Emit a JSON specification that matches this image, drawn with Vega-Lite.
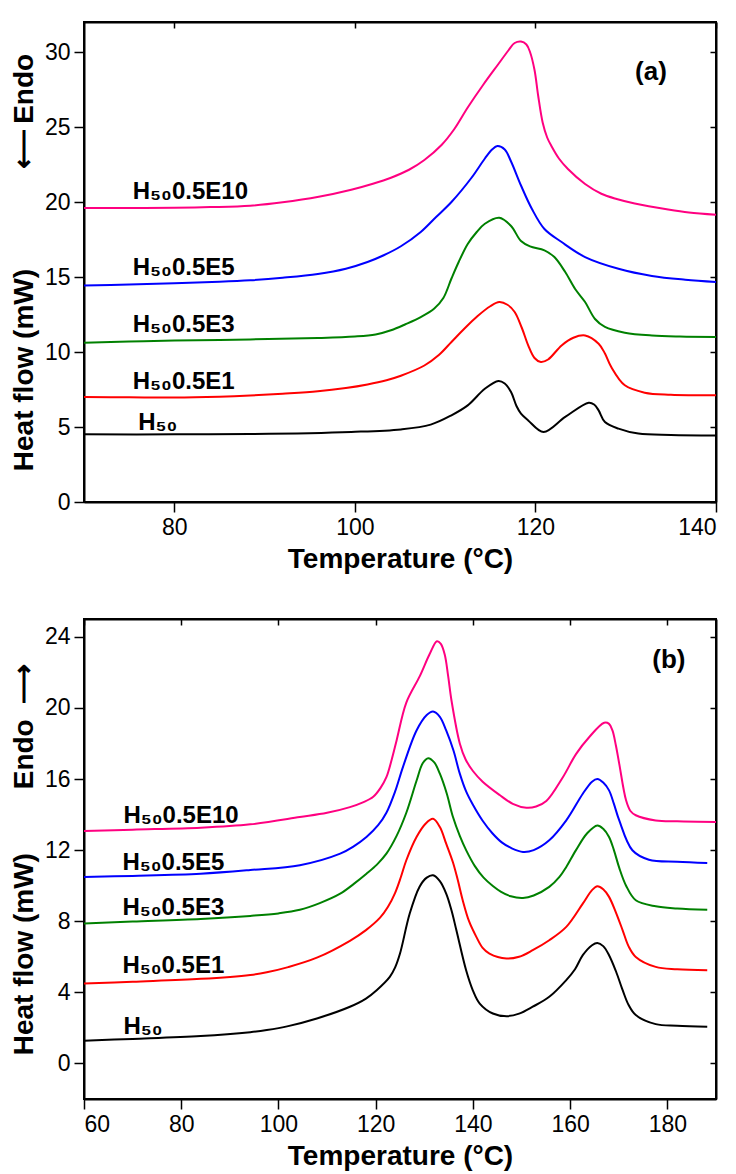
{
  "$schema": "https://vega.github.io/schema/vega-lite/v6.json",
  "padding": {"left": 9, "top": 20, "right": 16, "bottom": 4},
  "spacing": 43,
  "config": {
    "font": "Liberation Sans",
    "view": {"stroke": "black", "strokeWidth": 2},
    "axis": {
      "grid": false,
      "domainColor": "black",
      "domainWidth": 2,
      "tickColor": "black",
      "tickWidth": 1.5,
      "tickSize": 10,
      "labelFont": "Liberation Sans",
      "labelFontSize": 23,
      "labelColor": "black",
      "labelPadding": 4,
      "titleFont": "Liberation Sans",
      "titleFontSize": 28,
      "titleFontWeight": "bold",
      "titleColor": "black",
      "titlePadding": 6
    }
  },
  "datasets": {
    "a": [
      {"s":"E10","T":70,"Q":19.6},{"s":"E10","T":75,"Q":19.6},{"s":"E10","T":80,"Q":19.62},{"s":"E10","T":84,"Q":19.66},{"s":"E10","T":88.4,"Q":19.75},{"s":"E10","T":92,"Q":19.98},{"s":"E10","T":96,"Q":20.35},{"s":"E10","T":99.6,"Q":20.82},{"s":"E10","T":102,"Q":21.22},{"s":"E10","T":104,"Q":21.62},{"s":"E10","T":106,"Q":22.15},{"s":"E10","T":107.7,"Q":22.8},{"s":"E10","T":109.6,"Q":23.8},{"s":"E10","T":111,"Q":24.85},{"s":"E10","T":112.5,"Q":26.3},{"s":"E10","T":114.2,"Q":27.8},{"s":"E10","T":115.9,"Q":29.2},{"s":"E10","T":117,"Q":30.1},{"s":"E10","T":117.7,"Q":30.6},{"s":"E10","T":118.4,"Q":30.7},{"s":"E10","T":119,"Q":30.5},{"s":"E10","T":119.4,"Q":30.0},{"s":"E10","T":119.9,"Q":28.8},{"s":"E10","T":120.3,"Q":27.1},{"s":"E10","T":120.8,"Q":25.3},{"s":"E10","T":121.3,"Q":24.3},{"s":"E10","T":121.8,"Q":23.7},{"s":"E10","T":122.6,"Q":22.9},{"s":"E10","T":123.6,"Q":22.2},{"s":"E10","T":125.5,"Q":21.2},{"s":"E10","T":127.3,"Q":20.55},{"s":"E10","T":129,"Q":20.2},{"s":"E10","T":131,"Q":19.9},{"s":"E10","T":134.7,"Q":19.5},{"s":"E10","T":137,"Q":19.3},{"s":"E10","T":140,"Q":19.15},
      {"s":"E5","T":70,"Q":14.44},{"s":"E5","T":75,"Q":14.5},{"s":"E5","T":80,"Q":14.58},{"s":"E5","T":85,"Q":14.68},{"s":"E5","T":88.4,"Q":14.78},{"s":"E5","T":92,"Q":14.95},{"s":"E5","T":95.9,"Q":15.2},{"s":"E5","T":99,"Q":15.55},{"s":"E5","T":101.4,"Q":16.0},{"s":"E5","T":103.2,"Q":16.45},{"s":"E5","T":105.1,"Q":17.05},{"s":"E5","T":107.3,"Q":18.0},{"s":"E5","T":109,"Q":19.0},{"s":"E5","T":110.7,"Q":20.0},{"s":"E5","T":112.9,"Q":21.6},{"s":"E5","T":114.4,"Q":22.9},{"s":"E5","T":115.2,"Q":23.5},{"s":"E5","T":115.8,"Q":23.73},{"s":"E5","T":116.6,"Q":23.5},{"s":"E5","T":117.3,"Q":22.7},{"s":"E5","T":118.4,"Q":21.1},{"s":"E5","T":119.6,"Q":19.55},{"s":"E5","T":121,"Q":18.2},{"s":"E5","T":122.9,"Q":17.33},{"s":"E5","T":125.5,"Q":16.33},{"s":"E5","T":129.2,"Q":15.55},{"s":"E5","T":132.9,"Q":15.07},{"s":"E5","T":136.6,"Q":14.82},{"s":"E5","T":140,"Q":14.67},
      {"s":"E3","T":70,"Q":10.62},{"s":"E3","T":75,"Q":10.7},{"s":"E3","T":80,"Q":10.76},{"s":"E3","T":88.4,"Q":10.84},{"s":"E3","T":95.9,"Q":10.93},{"s":"E3","T":100,"Q":11.03},{"s":"E3","T":102.3,"Q":11.17},{"s":"E3","T":104,"Q":11.45},{"s":"E3","T":105.6,"Q":11.85},{"s":"E3","T":107.3,"Q":12.33},{"s":"E3","T":108.8,"Q":12.9},{"s":"E3","T":109.8,"Q":13.6},{"s":"E3","T":110.7,"Q":14.9},{"s":"E3","T":111.5,"Q":16.0},{"s":"E3","T":112.5,"Q":17.2},{"s":"E3","T":113.5,"Q":18.0},{"s":"E3","T":114.4,"Q":18.55},{"s":"E3","T":116,"Q":18.95},{"s":"E3","T":117.3,"Q":18.4},{"s":"E3","T":118.4,"Q":17.4},{"s":"E3","T":119.4,"Q":17.04},{"s":"E3","T":121,"Q":16.78},{"s":"E3","T":122.1,"Q":16.33},{"s":"E3","T":123.3,"Q":15.33},{"s":"E3","T":124.4,"Q":14.2},{"s":"E3","T":125.5,"Q":13.33},{"s":"E3","T":126.6,"Q":12.2},{"s":"E3","T":127.7,"Q":11.67},{"s":"E3","T":129.9,"Q":11.29},{"s":"E3","T":132.9,"Q":11.1},{"s":"E3","T":136,"Q":11.03},{"s":"E3","T":140,"Q":11.0},
      {"s":"E1","T":70,"Q":7.0},{"s":"E1","T":75,"Q":6.98},{"s":"E1","T":80,"Q":6.96},{"s":"E1","T":85,"Q":7.02},{"s":"E1","T":88.4,"Q":7.1},{"s":"E1","T":92,"Q":7.22},{"s":"E1","T":95.9,"Q":7.38},{"s":"E1","T":99,"Q":7.6},{"s":"E1","T":101.4,"Q":7.84},{"s":"E1","T":103.5,"Q":8.12},{"s":"E1","T":105.1,"Q":8.42},{"s":"E1","T":107.7,"Q":9.1},{"s":"E1","T":109.3,"Q":9.8},{"s":"E1","T":110.7,"Q":10.67},{"s":"E1","T":112.2,"Q":11.6},{"s":"E1","T":113.6,"Q":12.4},{"s":"E1","T":115,"Q":13.05},{"s":"E1","T":116,"Q":13.33},{"s":"E1","T":116.9,"Q":13.15},{"s":"E1","T":117.7,"Q":12.67},{"s":"E1","T":118.5,"Q":11.6},{"s":"E1","T":119.2,"Q":10.44},{"s":"E1","T":119.9,"Q":9.6},{"s":"E1","T":120.6,"Q":9.33},{"s":"E1","T":121.4,"Q":9.5},{"s":"E1","T":122.9,"Q":10.44},{"s":"E1","T":124.2,"Q":10.95},{"s":"E1","T":125.5,"Q":11.1},{"s":"E1","T":127,"Q":10.55},{"s":"E1","T":127.7,"Q":9.9},{"s":"E1","T":128.4,"Q":9.0},{"s":"E1","T":129.9,"Q":7.78},{"s":"E1","T":132.1,"Q":7.29},{"s":"E1","T":135,"Q":7.15},{"s":"E1","T":140,"Q":7.11},
      {"s":"H50","T":70,"Q":4.51},{"s":"H50","T":80,"Q":4.51},{"s":"H50","T":88.4,"Q":4.53},{"s":"H50","T":99.6,"Q":4.67},{"s":"H50","T":105.1,"Q":4.84},{"s":"H50","T":108.4,"Q":5.16},{"s":"H50","T":110.7,"Q":5.78},{"s":"H50","T":112.5,"Q":6.44},{"s":"H50","T":114.4,"Q":7.55},{"s":"H50","T":115.9,"Q":8.07},{"s":"H50","T":116.6,"Q":7.9},{"s":"H50","T":117.3,"Q":7.33},{"s":"H50","T":117.9,"Q":6.4},{"s":"H50","T":118.4,"Q":5.89},{"s":"H50","T":119.2,"Q":5.44},{"s":"H50","T":120.9,"Q":4.67},{"s":"H50","T":123.3,"Q":5.67},{"s":"H50","T":125.9,"Q":6.62},{"s":"H50","T":126.5,"Q":6.5},{"s":"H50","T":127,"Q":6.11},{"s":"H50","T":127.7,"Q":5.33},{"s":"H50","T":129.2,"Q":4.89},{"s":"H50","T":131.4,"Q":4.56},{"s":"H50","T":135,"Q":4.47},{"s":"H50","T":140,"Q":4.44}
    ],
    "b": [
      {"s":"E10","T":60,"Q":13.07},{"s":"E10","T":70,"Q":13.15},{"s":"E10","T":84,"Q":13.26},{"s":"E10","T":94.2,"Q":13.45},{"s":"E10","T":104.4,"Q":13.86},{"s":"E10","T":110,"Q":14.1},{"s":"E10","T":114.7,"Q":14.42},{"s":"E10","T":117.5,"Q":14.7},{"s":"E10","T":119.5,"Q":15.0},{"s":"E10","T":121,"Q":15.5},{"s":"E10","T":122.2,"Q":16.1},{"s":"E10","T":123.3,"Q":17.1},{"s":"E10","T":124.3,"Q":18.17},{"s":"E10","T":126.3,"Q":20.3},{"s":"E10","T":129.1,"Q":21.8},{"s":"E10","T":131.1,"Q":23.03},{"s":"E10","T":132.6,"Q":23.75},{"s":"E10","T":133.4,"Q":23.6},{"s":"E10","T":134.2,"Q":23.0},{"s":"E10","T":134.9,"Q":21.8},{"s":"E10","T":135.6,"Q":20.4},{"s":"E10","T":137.3,"Q":18.0},{"s":"E10","T":138.5,"Q":17.1},{"s":"E10","T":140,"Q":16.45},{"s":"E10","T":142,"Q":15.85},{"s":"E10","T":145.5,"Q":15.1},{"s":"E10","T":148.2,"Q":14.6},{"s":"E10","T":151,"Q":14.38},{"s":"E10","T":153,"Q":14.45},{"s":"E10","T":155.1,"Q":14.76},{"s":"E10","T":158.5,"Q":16.1},{"s":"E10","T":161.2,"Q":17.4},{"s":"E10","T":163.9,"Q":18.35},{"s":"E10","T":167,"Q":19.16},{"s":"E10","T":168,"Q":19.1},{"s":"E10","T":168.7,"Q":18.73},{"s":"E10","T":169.4,"Q":17.9},{"s":"E10","T":170.1,"Q":16.85},{"s":"E10","T":171.5,"Q":14.8},{"s":"E10","T":172.4,"Q":14.2},{"s":"E10","T":173.5,"Q":13.96},{"s":"E10","T":177.6,"Q":13.67},{"s":"E10","T":182,"Q":13.62},{"s":"E10","T":190,"Q":13.58},
      {"s":"E5","T":60,"Q":10.49},{"s":"E5","T":70,"Q":10.55},{"s":"E5","T":84,"Q":10.67},{"s":"E5","T":94.2,"Q":10.88},{"s":"E5","T":104.4,"Q":11.15},{"s":"E5","T":112.7,"Q":11.8},{"s":"E5","T":115.4,"Q":12.2},{"s":"E5","T":118.1,"Q":12.74},{"s":"E5","T":120.5,"Q":13.4},{"s":"E5","T":122.2,"Q":14.1},{"s":"E5","T":124,"Q":15.3},{"s":"E5","T":125.6,"Q":16.67},{"s":"E5","T":128.4,"Q":18.73},{"s":"E5","T":130.5,"Q":19.6},{"s":"E5","T":131.8,"Q":19.8},{"s":"E5","T":133.2,"Q":19.5},{"s":"E5","T":134.5,"Q":18.73},{"s":"E5","T":136,"Q":17.6},{"s":"E5","T":137.3,"Q":16.3},{"s":"E5","T":138.6,"Q":15.3},{"s":"E5","T":140,"Q":14.55},{"s":"E5","T":142,"Q":13.65},{"s":"E5","T":144,"Q":12.95},{"s":"E5","T":146,"Q":12.42},{"s":"E5","T":148,"Q":12.1},{"s":"E5","T":150.3,"Q":11.9},{"s":"E5","T":152.5,"Q":12.0},{"s":"E5","T":155.7,"Q":12.55},{"s":"E5","T":159.2,"Q":13.67},{"s":"E5","T":162.6,"Q":15.17},{"s":"E5","T":164.5,"Q":15.85},{"s":"E5","T":165.6,"Q":16.0},{"s":"E5","T":166.8,"Q":15.8},{"s":"E5","T":168,"Q":15.36},{"s":"E5","T":169,"Q":14.6},{"s":"E5","T":170.1,"Q":13.67},{"s":"E5","T":172.8,"Q":11.99},{"s":"E5","T":176.2,"Q":11.46},{"s":"E5","T":182,"Q":11.35},{"s":"E5","T":188.2,"Q":11.28},
      {"s":"E3","T":60,"Q":7.87},{"s":"E3","T":70,"Q":7.98},{"s":"E3","T":84,"Q":8.13},{"s":"E3","T":94.2,"Q":8.3},{"s":"E3","T":100,"Q":8.44},{"s":"E3","T":104.4,"Q":8.64},{"s":"E3","T":108.5,"Q":9.02},{"s":"E3","T":112.7,"Q":9.55},{"s":"E3","T":115.5,"Q":10.1},{"s":"E3","T":118.1,"Q":10.67},{"s":"E3","T":120.3,"Q":11.2},{"s":"E3","T":122.2,"Q":11.8},{"s":"E3","T":124.3,"Q":12.8},{"s":"E3","T":126.3,"Q":14.1},{"s":"E3","T":128.4,"Q":15.9},{"s":"E3","T":129.7,"Q":16.9},{"s":"E3","T":130.8,"Q":17.17},{"s":"E3","T":132,"Q":16.95},{"s":"E3","T":133.2,"Q":16.3},{"s":"E3","T":134.6,"Q":15.2},{"s":"E3","T":135.9,"Q":13.86},{"s":"E3","T":137.3,"Q":12.8},{"s":"E3","T":138.6,"Q":12.0},{"s":"E3","T":140.4,"Q":11.1},{"s":"E3","T":142.2,"Q":10.45},{"s":"E3","T":144.1,"Q":9.98},{"s":"E3","T":145.8,"Q":9.65},{"s":"E3","T":147.8,"Q":9.4},{"s":"E3","T":150.3,"Q":9.31},{"s":"E3","T":152.5,"Q":9.45},{"s":"E3","T":155.7,"Q":9.93},{"s":"E3","T":157.8,"Q":10.49},{"s":"E3","T":159.2,"Q":11.05},{"s":"E3","T":161.2,"Q":12.0},{"s":"E3","T":163.5,"Q":12.95},{"s":"E3","T":165.6,"Q":13.39},{"s":"E3","T":166.8,"Q":13.2},{"s":"E3","T":168,"Q":12.74},{"s":"E3","T":169,"Q":12.0},{"s":"E3","T":170.1,"Q":11.0},{"s":"E3","T":171.5,"Q":10.0},{"s":"E3","T":173.5,"Q":9.18},{"s":"E3","T":177.6,"Q":8.84},{"s":"E3","T":182,"Q":8.72},{"s":"E3","T":188.2,"Q":8.65},
      {"s":"E1","T":60,"Q":4.49},{"s":"E1","T":70,"Q":4.6},{"s":"E1","T":84,"Q":4.76},{"s":"E1","T":94.2,"Q":4.98},{"s":"E1","T":97.6,"Q":5.13},{"s":"E1","T":102,"Q":5.42},{"s":"E1","T":107.9,"Q":5.95},{"s":"E1","T":114.7,"Q":6.9},{"s":"E1","T":118,"Q":7.5},{"s":"E1","T":120.9,"Q":8.2},{"s":"E1","T":122.5,"Q":8.8},{"s":"E1","T":124,"Q":9.6},{"s":"E1","T":125.2,"Q":10.5},{"s":"E1","T":126.3,"Q":11.43},{"s":"E1","T":128.4,"Q":12.74},{"s":"E1","T":130.3,"Q":13.5},{"s":"E1","T":131.8,"Q":13.76},{"s":"E1","T":133.2,"Q":13.3},{"s":"E1","T":134.5,"Q":12.36},{"s":"E1","T":135.9,"Q":11.3},{"s":"E1","T":136.9,"Q":10.3},{"s":"E1","T":137.9,"Q":9.18},{"s":"E1","T":139.2,"Q":8.0},{"s":"E1","T":140.7,"Q":7.12},{"s":"E1","T":142,"Q":6.5},{"s":"E1","T":143.4,"Q":6.18},{"s":"E1","T":146.9,"Q":5.9},{"s":"E1","T":149.5,"Q":6.0},{"s":"E1","T":152.3,"Q":6.37},{"s":"E1","T":155.7,"Q":6.93},{"s":"E1","T":159.2,"Q":7.68},{"s":"E1","T":162.6,"Q":8.99},{"s":"E1","T":164.5,"Q":9.75},{"s":"E1","T":165.6,"Q":9.97},{"s":"E1","T":166.8,"Q":9.8},{"s":"E1","T":168,"Q":9.37},{"s":"E1","T":169.4,"Q":8.5},{"s":"E1","T":170.8,"Q":7.49},{"s":"E1","T":172,"Q":6.6},{"s":"E1","T":173.5,"Q":5.99},{"s":"E1","T":177.6,"Q":5.43},{"s":"E1","T":182,"Q":5.3},{"s":"E1","T":188.2,"Q":5.24},
      {"s":"H50","T":60,"Q":1.28},{"s":"H50","T":70,"Q":1.38},{"s":"H50","T":84,"Q":1.54},{"s":"H50","T":94.2,"Q":1.76},{"s":"H50","T":97.6,"Q":1.88},{"s":"H50","T":102,"Q":2.1},{"s":"H50","T":107.9,"Q":2.53},{"s":"H50","T":114.7,"Q":3.19},{"s":"H50","T":118,"Q":3.65},{"s":"H50","T":120.2,"Q":4.12},{"s":"H50","T":122.9,"Q":4.87},{"s":"H50","T":124,"Q":5.4},{"s":"H50","T":125,"Q":6.18},{"s":"H50","T":127,"Q":8.43},{"s":"H50","T":129,"Q":9.93},{"s":"H50","T":130.5,"Q":10.45},{"s":"H50","T":131.8,"Q":10.58},{"s":"H50","T":133.2,"Q":10.25},{"s":"H50","T":134.5,"Q":9.55},{"s":"H50","T":135.6,"Q":8.6},{"s":"H50","T":136.6,"Q":7.49},{"s":"H50","T":138.6,"Q":5.24},{"s":"H50","T":140,"Q":4.1},{"s":"H50","T":141.4,"Q":3.37},{"s":"H50","T":144.1,"Q":2.81},{"s":"H50","T":146.9,"Q":2.66},{"s":"H50","T":149.5,"Q":2.8},{"s":"H50","T":152.3,"Q":3.19},{"s":"H50","T":155.7,"Q":3.75},{"s":"H50","T":159.2,"Q":4.69},{"s":"H50","T":161,"Q":5.3},{"s":"H50","T":162.6,"Q":6.09},{"s":"H50","T":164.5,"Q":6.65},{"s":"H50","T":165.6,"Q":6.78},{"s":"H50","T":166.8,"Q":6.6},{"s":"H50","T":168,"Q":6.09},{"s":"H50","T":169.4,"Q":5.2},{"s":"H50","T":170.8,"Q":4.12},{"s":"H50","T":172,"Q":3.3},{"s":"H50","T":173.5,"Q":2.72},{"s":"H50","T":177.6,"Q":2.21},{"s":"H50","T":182,"Q":2.12},{"s":"H50","T":188.2,"Q":2.06}
    ],
    "la": [
      {"label":"H₅₀0.5E10","T":75.4,"Q":20.2},
      {"label":"H₅₀0.5E5","T":75.4,"Q":15.13},
      {"label":"H₅₀0.5E3","T":75.4,"Q":11.33},
      {"label":"H₅₀0.5E1","T":75.4,"Q":7.53},
      {"label":"H₅₀","T":76.0,"Q":4.8}
    ],
    "lb": [
      {"label":"H₅₀0.5E10","T":68.1,"Q":13.52},
      {"label":"H₅₀0.5E5","T":67.9,"Q":10.88},
      {"label":"H₅₀0.5E3","T":67.9,"Q":8.35},
      {"label":"H₅₀0.5E1","T":67.9,"Q":5.07},
      {"label":"H₅₀","T":68.1,"Q":1.67}
    ],
    "pa": [{"label":"(a)","T":132.8,"Q":28.7}],
    "pb": [{"label":"(b)","T":180.3,"Q":22.7}]
  },
  "vconcat": [
    {
      "width": 632,
      "height": 480,
      "layer": [
        {
          "data": {"name": "a"},
          "mark": {"type": "line", "interpolate": "catmull-rom", "strokeWidth": 2, "clip": true},
          "encoding": {
            "x": {"field": "T", "type": "quantitative", "scale": {"domain": [70, 140], "nice": false, "zero": false},
                  "axis": {"orient": "bottom", "values": [80, 100, 120, 140], "title": "Temperature (°C)"}},
            "y": {"field": "Q", "type": "quantitative", "scale": {"domain": [0, 32], "nice": false, "zero": false},
                  "axis": {"orient": "left", "values": [0, 5, 10, 15, 20, 25, 30], "title": "Heat flow (mW)\u2003\u2003\u2003\u00a0\u00a0⟵\u2009Endo"}},
            "color": {"field": "s", "type": "nominal", "legend": null,
                      "scale": {"domain": ["H50", "E1", "E3", "E5", "E10"], "range": ["#000000", "#ff0000", "#008000", "#0000ff", "#ff0080"]}}
          }
        },
        {
          "data": {"name": "a"},
          "mark": {"type": "line", "opacity": 0},
          "encoding": {
            "x": {"field": "T", "type": "quantitative",
                  "axis": {"orient": "top", "values": [80, 100, 120, 140], "labels": false, "title": null, "tickSize": -6}},
            "y": {"field": "Q", "type": "quantitative",
                  "axis": {"orient": "right", "values": [0, 5, 10, 15, 20, 25, 30], "labels": false, "title": null, "tickSize": -6}},
            "detail": {"field": "s"}
          }
        },
        {
          "data": {"name": "la"},
          "mark": {"type": "text", "align": "left", "baseline": "alphabetic", "fontWeight": "bold", "fontSize": 24, "color": "black"},
          "encoding": {
            "x": {"field": "T", "type": "quantitative", "axis": null},
            "y": {"field": "Q", "type": "quantitative", "axis": null},
            "text": {"field": "label"}
          }
        },
        {
          "data": {"name": "pa"},
          "mark": {"type": "text", "align": "center", "baseline": "middle", "fontWeight": "bold", "fontSize": 26, "color": "black"},
          "encoding": {
            "x": {"field": "T", "type": "quantitative", "axis": null},
            "y": {"field": "Q", "type": "quantitative", "axis": null},
            "text": {"field": "label"}
          }
        }
      ],
      "resolve": {"axis": {"x": "independent", "y": "independent"}}
    },
    {
      "width": 632,
      "height": 480,
      "layer": [
        {
          "data": {"name": "b"},
          "mark": {"type": "line", "interpolate": "catmull-rom", "strokeWidth": 2, "clip": true},
          "encoding": {
            "x": {"field": "T", "type": "quantitative", "scale": {"domain": [60, 190], "nice": false, "zero": false},
                  "axis": {"orient": "bottom", "values": [60, 80, 100, 120, 140, 160, 180], "title": "Temperature (°C)"}},
            "y": {"field": "Q", "type": "quantitative", "scale": {"domain": [-2, 25], "nice": false, "zero": false},
                  "axis": {"orient": "left", "values": [0, 4, 8, 12, 16, 20, 24], "title": "\u00a0Heat flow (mW)\u2003\u2003\u00a0Endo\u00a0\u00a0⟶"}},
            "color": {"field": "s", "type": "nominal", "legend": null,
                      "scale": {"domain": ["H50", "E1", "E3", "E5", "E10"], "range": ["#000000", "#ff0000", "#008000", "#0000ff", "#ff0080"]}}
          }
        },
        {
          "data": {"name": "b"},
          "mark": {"type": "line", "opacity": 0},
          "encoding": {
            "x": {"field": "T", "type": "quantitative",
                  "axis": {"orient": "top", "values": [60, 80, 100, 120, 140, 160, 180], "labels": false, "title": null, "tickSize": -6}},
            "y": {"field": "Q", "type": "quantitative",
                  "axis": {"orient": "right", "values": [0, 4, 8, 12, 16, 20, 24], "labels": false, "title": null, "tickSize": -6}},
            "detail": {"field": "s"}
          }
        },
        {
          "data": {"name": "lb"},
          "mark": {"type": "text", "align": "left", "baseline": "alphabetic", "fontWeight": "bold", "fontSize": 24, "color": "black"},
          "encoding": {
            "x": {"field": "T", "type": "quantitative", "axis": null},
            "y": {"field": "Q", "type": "quantitative", "axis": null},
            "text": {"field": "label"}
          }
        },
        {
          "data": {"name": "pb"},
          "mark": {"type": "text", "align": "center", "baseline": "middle", "fontWeight": "bold", "fontSize": 26, "color": "black"},
          "encoding": {
            "x": {"field": "T", "type": "quantitative", "axis": null},
            "y": {"field": "Q", "type": "quantitative", "axis": null},
            "text": {"field": "label"}
          }
        }
      ],
      "resolve": {"axis": {"x": "independent", "y": "independent"}}
    }
  ]
}
